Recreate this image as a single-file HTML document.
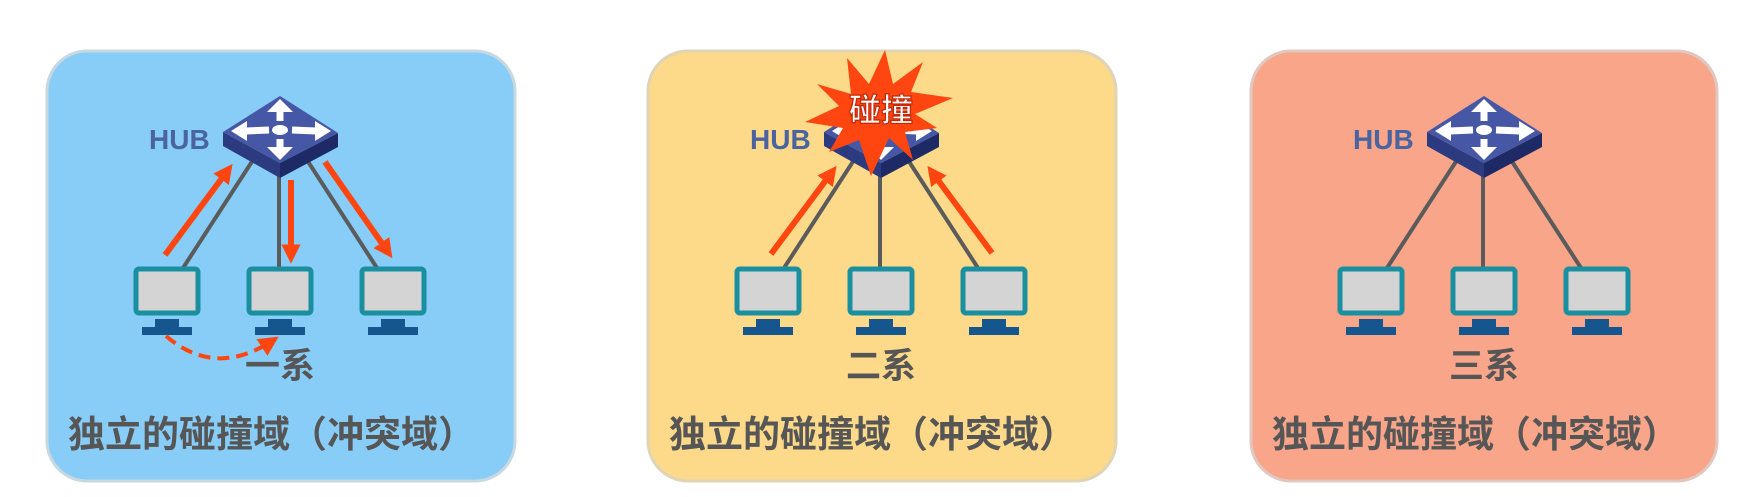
<!DOCTYPE html>
<html><head><meta charset="utf-8"><style>
html,body{margin:0;padding:0;background:#fff;}
svg{display:block;}
text{font-family:"Liberation Sans","Noto Sans CJK SC",sans-serif;font-weight:bold;}
</style></head><body>
<svg width="1762" height="497" viewBox="0 0 1762 497" xmlns="http://www.w3.org/2000/svg">
<defs>
<marker id="ah" viewBox="0 0 10 10" refX="6" refY="5" markerWidth="3.2" markerHeight="3.2" orient="auto"><path d="M0,0 L10,5 L0,10 z" fill="#ff4510"/></marker>
<marker id="ah2" viewBox="0 0 10 10" refX="6" refY="5" markerWidth="5" markerHeight="5" orient="auto"><path d="M0,0 L10,5 L0,10 z" fill="#ff4510"/></marker>
<g id="hub">
<polygon points="223,132 280,163 280,178 223,146" fill="#2c3a80"/>
<polygon points="280,163 338,133 338,147 280,178" fill="#1e2a66"/>
<polygon points="223,132 280,96 338,133 280,163" fill="#4657a6"/>
<g stroke="#fff" stroke-width="7" fill="none">
<line x1="280" y1="121" x2="280" y2="108"/><line x1="280" y1="139" x2="280" y2="152"/>
<line x1="269" y1="130" x2="246" y2="131"/><line x1="292" y1="130" x2="316" y2="131"/>
</g>
<g fill="#fff">
<polygon points="280,99 267,112 293,112"/><polygon points="280,160 267,147 293,147"/>
<polygon points="231,131 247,121 247,141"/><polygon points="331,131 315,121 315,141"/>
<ellipse cx="280" cy="130" rx="8" ry="5"/>
</g>
</g>
<g id="pc">
<rect x="-31" y="269" width="62" height="44" rx="3" fill="#d4d4d4" stroke="#1a8fa0" stroke-width="5"/>
<rect x="-12" y="319" width="24" height="9" fill="#15568f"/>
<rect x="-25" y="327" width="50" height="8" fill="#15568f"/>
</g>
<g id="base">
<g stroke="#5b5b5b" stroke-width="4">
<line x1="253" y1="160" x2="183" y2="268"/>
<line x1="279" y1="175" x2="279" y2="268"/>
<line x1="307" y1="160" x2="377" y2="268"/>
</g>
<use href="#hub"/>
<use href="#pc" x="167"/><use href="#pc" x="280"/><use href="#pc" x="393"/>
<text x="149" y="149" font-size="28" fill="#4a64a0">HUB</text>
<text x="68" y="447" font-size="37" fill="#565656">独立的碰撞域（冲突域）</text>
</g>
</defs>

<rect x="47" y="51" width="468" height="430" rx="40" fill="#87cdf8" stroke="#c8d8e0" stroke-width="3"/>
<rect x="648" y="51" width="468" height="430" rx="40" fill="#fdd98a" stroke="#e0d4b8" stroke-width="3"/>
<rect x="1251" y="51" width="466" height="430" rx="40" fill="#f8a58a" stroke="#e0c8c0" stroke-width="3"/>

<!-- panel 1 -->
<g>
<use href="#base"/>
<g stroke="#ff4510" stroke-width="6" fill="none">
<line x1="165" y1="255" x2="228" y2="170" marker-end="url(#ah)"/>
<line x1="291" y1="180" x2="291" y2="256" marker-end="url(#ah)"/>
<line x1="325" y1="162" x2="388" y2="252" marker-end="url(#ah)"/>
<path d="M166,336 Q215,378 272,341" stroke-width="4" stroke-dasharray="12,7" marker-end="url(#ah2)"/>
</g>
<text x="245" y="378" font-size="35" fill="#565656">一系</text>
</g>

<!-- panel 2 -->
<g transform="translate(601,0)">
<use href="#base"/>
<g stroke="#ff4510" stroke-width="6" fill="none">
<line x1="170" y1="254" x2="231" y2="172" marker-end="url(#ah)"/>
<line x1="391" y1="253" x2="331" y2="172" marker-end="url(#ah)"/>
</g>
<polygon fill="#ff4510" points="284,52 292,86 322,64 310,94 352,100 314,116 336,130 304,134 312,162 288,140 270,178 258,142 228,154 242,130 204,124 238,108 216,86 250,96 246,60 268,86" transform="translate(0,-2)"/>
<text x="248" y="121" font-size="32" fill="#fff" stroke="#c02808" stroke-width="1.2">碰撞</text>
<text x="245" y="378" font-size="35" fill="#565656">二系</text>
</g>

<!-- panel 3 -->
<g transform="translate(1204,0)">
<use href="#base"/>
<text x="245" y="378" font-size="35" fill="#565656">三系</text>
</g>
</svg>
</body></html>
